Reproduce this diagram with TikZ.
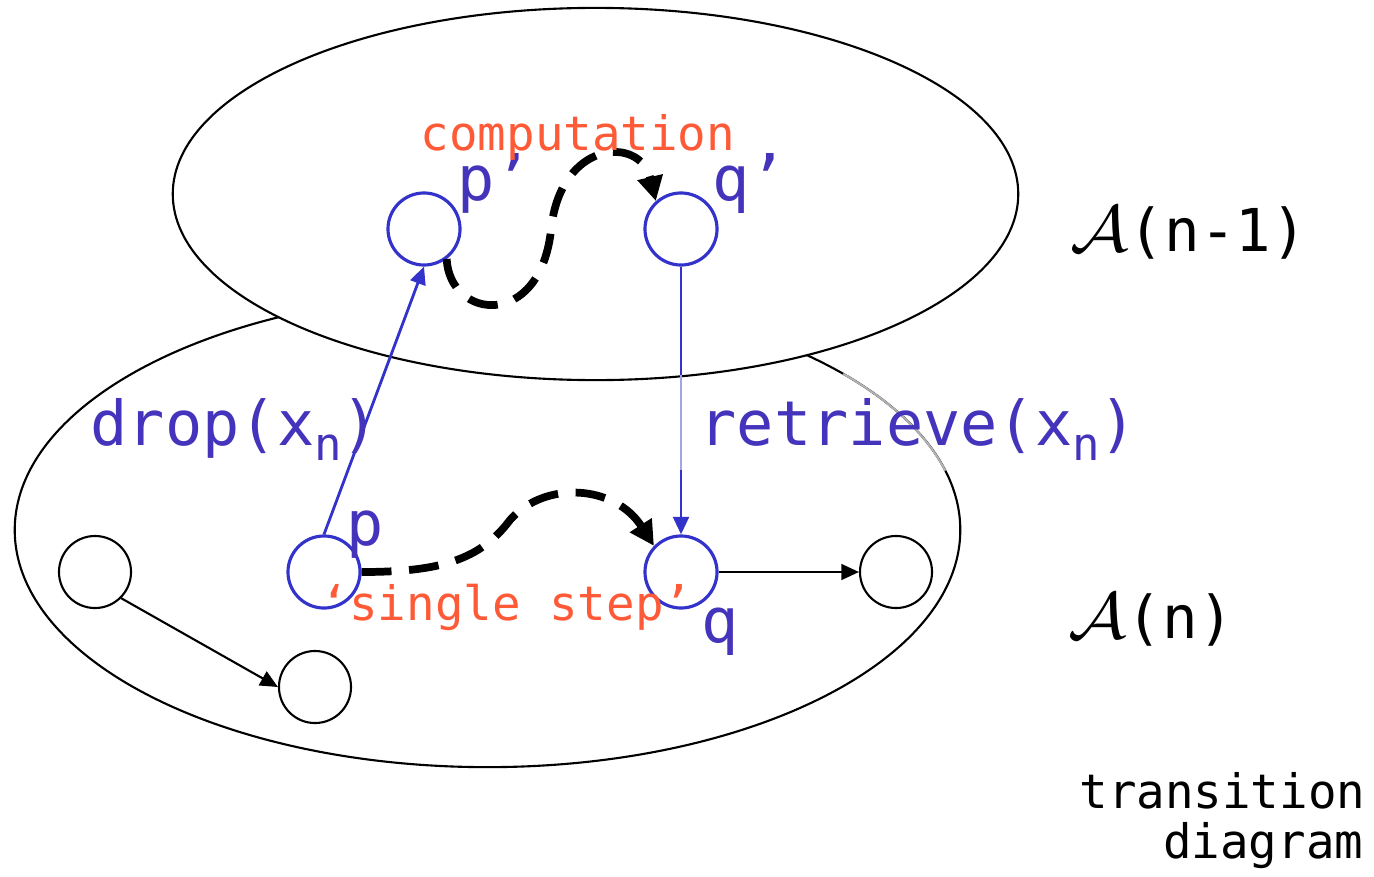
\documentclass[tikz,border=0pt]{standalone}
\usepackage{fontspec}
\setmonofont{DejaVu Sans Mono}
\usepackage{graphicx}
\usetikzlibrary{arrows.meta, positioning}
\definecolor{stC}  {RGB}{51,  51, 204}
\definecolor{lblC} {RGB}{68,  51, 187}
\definecolor{cmpC} {RGB}{255, 90,  55}
\newcommand{\xn}{x\raisebox{-4.3pt}{\fontsize{13}{14}\selectfont n}}
\newcommand{\Acal}{\scalebox{1.2}[1.08]{$\mathcal{A}$}}
\tikzset{
  bst/.style  = {circle, draw=stC, line width=0.9pt, minimum size=0.72cm,
                 inner sep=0pt},
  kst/.style  = {circle, draw=black, line width=0.6pt, minimum size=0.72cm,
                 inner sep=0pt},
  lvl/.style  = {line width=0.6pt},
  tr/.style   = {-{Triangle[length=5pt, width=4.5pt]}, line width=0.6pt},
  btr/.style  = {-{Triangle[length=5pt, width=4.5pt]}, line width=0.8pt,
                 color=stC},
  comp/.style = {-{Triangle[length=7pt, width=7pt]}, line width=2.2pt,
                 dash pattern=on 8.5pt off 5pt},
  big/.style  = {font=\ttfamily\fontsize{17.6}{20}\selectfont, color=lblC,
                 inner sep=0pt, anchor=base west},
  olbl/.style = {font=\ttfamily\fontsize{13.5}{16}\selectfont, color=cmpC,
                 inner sep=0pt, anchor=base west},
  side/.style = {font=\ttfamily\fontsize{16.8}{20}\selectfont, inner sep=0pt,
                 anchor=base west},
  note/.style = {font=\ttfamily\fontsize{13.5}{16}\selectfont, inner sep=0pt,
                 anchor=base east},
}

\begin{document}
\begin{tikzpicture}[x=0.01cm, y=-0.01cm]
\useasboundingbox (0,0) rectangle (1374,876);

% ------------------------------------------------------------
%  The two levels A(n) and A(n-1)
% ------------------------------------------------------------
\draw[lvl] (487.5,530) ellipse [x radius=4.725cm, y radius=2.37cm];
\draw[lvl, gray!60] (487.5,530) ++(41.2:4.725cm and 2.37cm)
  arc[start angle=41.2, end angle=14.5, x radius=4.725cm, y radius=2.37cm];
\draw[lvl, fill=white] (595.5,194) ellipse [x radius=4.225cm, y radius=1.86cm];

% --- States ---
\node[bst] (pp) at (424,229) {};
\node[bst] (qq) at (681,229) {};
\node[bst] (p)  at (324,572) {};
\node[bst] (q)  at (681,572) {};
\node[kst] (a)  at (95,572)  {};
\node[kst] (b)  at (315,687) {};
\node[kst] (c)  at (896,572) {};

% --- Transitions ---
\draw[tr]  (a.-45) -- (b.west);
\draw[tr]  (q) -- (c);
\draw[btr] (p.north) -- (pp.south);
\draw[btr] (qq) -- (q);
\coordinate (fadeT) at (681,375);
\coordinate (fadeB) at (681,470);
\draw[stC!45, line width=0.8pt] (fadeT) -- (fadeB);

% --- Computation in A(n-1) and the single step in A(n) ---
\draw[comp] (pp.-53) .. controls (450,320) and (540,330) .. (551,230)
                     .. controls (560,140) and (640,135) .. (qq.132);
\draw[comp] (p.east) .. controls (440,572) and (480,560) .. (510,520)
                     .. controls (545,480) and (615,485) .. (q.136);

% --- Labels ---
\node[big] (lpp) at (457,200) {p’};
\node[big] (lqq) at (712,200) {q’};
\node[big] (lp)  at (346,545) {p};
\node[big] (lq)  at (701,642) {q};
\node[big] (drp) at (90,445)  {drop(\xn)};
\node[big] (rtv) at (699,445) {retrieve(\xn)};

\node[olbl] (cmp) at (420,150) {computation};
\node[olbl] (sgl) at (320,620) {‘single step’};

\node[side] (lvu) at (1070,251) {\Acal(n-1)};
\node[side] (lvd) at (1068,638) {\Acal(n)};

\node[note] (trn) at (1366,808) {transition};
\node[note] (dgm) at (1364,858) {diagram};

\end{tikzpicture}
\end{document}
